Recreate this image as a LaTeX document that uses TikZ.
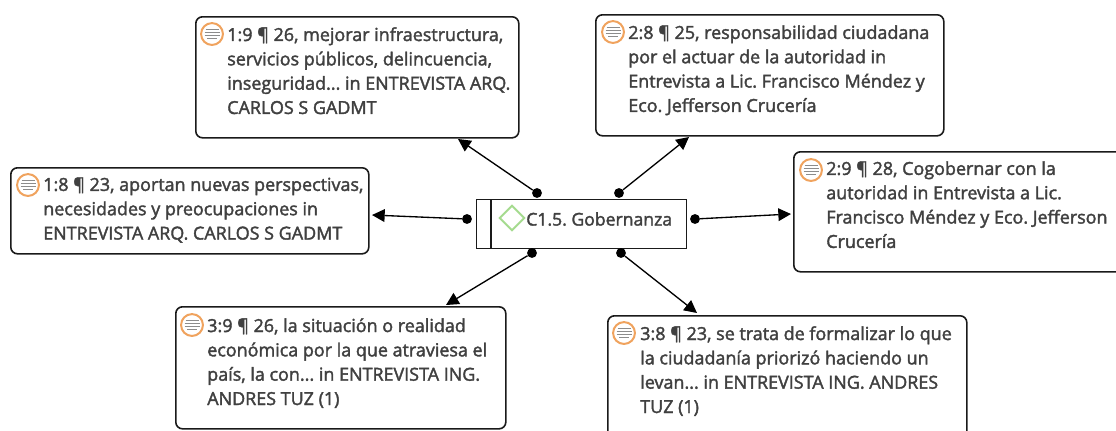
\documentclass[tikz,border=0pt]{standalone}
\usepackage{fontspec}
\setmainfont{Open Sans}[FakeBold=2]
\usetikzlibrary{arrows.meta,shapes.geometric}
\definecolor{ink}{HTML}{404040}
\definecolor{edgeblack}{HTML}{1A1A1A}
\definecolor{iconorange}{HTML}{F0A35E}
\definecolor{icongray}{HTML}{8C8C8C}
\definecolor{diamondgreen}{HTML}{A5DB8F}
\tikzset{
  x=0.75pt,y=-0.75pt,
  memobox/.style={draw=edgeblack,line width=1.2pt,rounded corners=5pt,fill=white,inner sep=0pt,anchor=north west},
  memotext/.style={anchor=north west,inner sep=0pt,text=ink,align=left,font=\fontsize{13.45pt}{18.25pt}\selectfont\frenchspacing},
  hub/.style={circle,fill=black,inner sep=0pt,minimum size=7.4pt},
  link/.style={draw=black,line width=1pt,-{Triangle[length=9.5pt,width=9.5pt]}},
  frameline/.style={draw=edgeblack,line width=1.1pt},
}
\newcommand{\memoicon}[2]{%
  \draw[iconorange,line width=1.5pt,fill=white] (#1,#2) circle[radius=8.2pt];
  \foreach \dy/\hw in {-4.5/6.5,-1.5/7.5,1.5/7.5,4.5/5}
    \draw[icongray,line width=1.2pt] (#1-\hw,#2+\dy) -- (#1+\hw,#2+\dy);
}
\begin{document}
\begin{tikzpicture}
\useasboundingbox (0,0) rectangle (1116,430);
\clip (0,0) rectangle (1116,430);
% boxes
\node[memobox,minimum width=323*0.75pt,minimum height=121*0.75pt] (b1) at (195,16) {};
\node[memobox,minimum width=348*0.75pt,minimum height=121*0.75pt] (b2) at (595,14) {};
\node[memobox,minimum width=358*0.75pt,minimum height=86*0.75pt] (b3) at (10,167) {};
\node[memobox,minimum width=340*0.75pt,minimum height=120*0.75pt] (b4) at (793,151) {};
\node[memobox,minimum width=330*0.75pt,minimum height=122*0.75pt] (b5) at (175,306) {};
\node[memobox,minimum width=359*0.75pt,minimum height=140*0.75pt] (b6) at (607,315) {};
% texts
\node[memotext] (t1) at (227,27) {1:9 ¶ 26, mejorar infraestructura,\\servicios públicos, delincuencia,\\inseguridad... in ENTREVISTA ARQ.\\CARLOS S GADMT};
\node[memotext] (t2) at (628,25) {2:8 ¶ 25, responsabilidad ciudadana\\por el actuar de la autoridad in\\Entrevista a Lic. Francisco Méndez y\\Eco. Jefferson Crucería};
\node[memotext] (t3) at (43,177) {1:8 ¶ 23, aportan nuevas perspectivas,\\necesidades y preocupaciones in\\ENTREVISTA ARQ. CARLOS S GADMT};
\node[memotext] (t4) at (826,161) {2:9 ¶ 28, Cogobernar con la\\autoridad in Entrevista a Lic.\\Francisco Méndez y Eco. Jefferson\\Crucería};
\node[memotext] (t5) at (207,318) {3:9 ¶ 26, la situación o realidad\\económica por la que atraviesa el\\país, la con... in ENTREVISTA ING.\\ANDRES TUZ (1)};
\node[memotext] (t6) at (640,326) {3:8 ¶ 23, se trata de formalizar lo que\\la ciudadanía priorizó haciendo un\\levan... in ENTREVISTA ING. ANDRES\\TUZ (1)};
% icons
\memoicon{212}{34}
\memoicon{613}{32}
\memoicon{28}{185}
\memoicon{811}{170}
\memoicon{192}{325}
\memoicon{624}{333}
% centre code
\node[frameline,draw,fill=white,anchor=north west,inner sep=0pt,minimum width=210*0.75pt,minimum height=49*0.75pt] (code) at (476,199) {};
\coordinate (stripetop) at (491,199);
\coordinate (stripebot) at (491,248);
\draw[frameline] (stripetop) -- (stripebot);
\node[diamond,draw=diamondgreen,line width=1.5pt,fill=white,inner sep=0pt,minimum size=19pt] (glyph) at (512,218) {};
\node[anchor=west,inner sep=0pt,text=ink,font=\fontsize{13.2pt}{15pt}\selectfont\frenchspacing] (codetext) at (526,219) {C1.5. Gobernanza};
% hubs
\node[hub] (h1) at (537,193) {};
\node[hub] (h2) at (619,193) {};
\node[hub] (h3) at (467,219) {};
\node[hub] (h4) at (695,219) {};
\node[hub] (h5) at (532,253) {};
\node[hub] (h6) at (621,253) {};
% arrow ends
\coordinate (e1) at (458,139);
\coordinate (e2) at (689,137);
\coordinate (e3) at (372,215);
\coordinate (e4) at (791,214);
\coordinate (e5) at (446,305);
\coordinate (e6) at (697,313);
\draw[link] (h1) -- (e1);
\draw[link] (h2) -- (e2);
\draw[link] (h3) -- (e3);
\draw[link] (h4) -- (e4);
\draw[link] (h5) -- (e5);
\draw[link] (h6) -- (e6);
\end{tikzpicture}
\end{document}
